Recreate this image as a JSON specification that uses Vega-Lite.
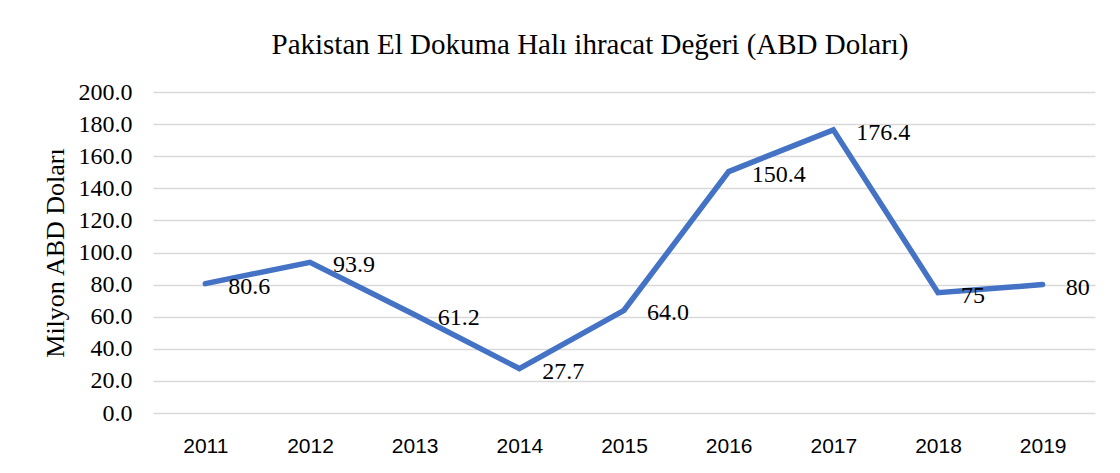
{
  "$schema": "https://vega.github.io/schema/vega-lite/v6.json",
  "autosize": {"type": "none"},
  "width": 942,
  "height": 321,
  "padding": {"left": 153, "top": 92, "right": 25, "bottom": 60},
  "background": "white",
  "title": {
    "text": "Pakistan El Dokuma Halı ihracat Değeri (ABD Doları)",
    "font": "Liberation Serif",
    "fontSize": 29,
    "fontWeight": "normal",
    "color": "#000000",
    "anchor": "middle",
    "dx": -34,
    "offset": 20
  },
  "data": {
    "values": [
      {"year": "2011", "value": 80.6, "label": "80.6"},
      {"year": "2012", "value": 93.9, "label": "93.9"},
      {"year": "2013", "value": 61.2, "label": "61.2"},
      {"year": "2014", "value": 27.7, "label": "27.7"},
      {"year": "2015", "value": 64.0, "label": "64.0"},
      {"year": "2016", "value": 150.4, "label": "150.4"},
      {"year": "2017", "value": 176.4, "label": "176.4"},
      {"year": "2018", "value": 75, "label": "75"},
      {"year": "2019", "value": 80, "label": "80"}
    ]
  },
  "encoding": {
    "x": {
      "field": "year",
      "type": "ordinal",
      "scale": {"type": "point", "padding": 0.5},
      "axis": {
        "title": null,
        "labelAngle": 0,
        "domain": false,
        "ticks": false,
        "grid": false,
        "labelFont": "Liberation Sans",
        "labelFontSize": 21,
        "labelColor": "#000000",
        "labelPadding": 22
      }
    },
    "y": {
      "field": "value",
      "type": "quantitative",
      "scale": {"domain": [0, 200], "nice": false},
      "axis": {
        "values": [0, 20, 40, 60, 80, 100, 120, 140, 160, 180, 200],
        "format": ".1f",
        "title": "Milyon ABD Doları",
        "titleFont": "Liberation Serif",
        "titleFontSize": 26,
        "titleFontWeight": "normal",
        "titleColor": "#000000",
        "titlePadding": 10,
        "domain": false,
        "ticks": false,
        "grid": true,
        "gridColor": "#d9d9d9",
        "gridWidth": 1.5,
        "labelFont": "Liberation Serif",
        "labelFontSize": 24,
        "labelColor": "#000000",
        "labelPadding": 21
      }
    }
  },
  "layer": [
    {
      "mark": {"type": "line", "color": "#4472C4", "strokeWidth": 5.5, "strokeJoin": "miter", "strokeCap": "round"}
    },
    {
      "mark": {"type": "text", "align": "left", "baseline": "middle", "dx": 23, "dy": 3, "font": "Liberation Serif", "fontSize": 24, "color": "#000000"},
      "encoding": {"text": {"field": "label", "type": "nominal"}}
    }
  ],
  "config": {"view": {"stroke": null}, "text": {"font": "Liberation Serif"}, "mark": {"font": "Liberation Serif"}}
}
